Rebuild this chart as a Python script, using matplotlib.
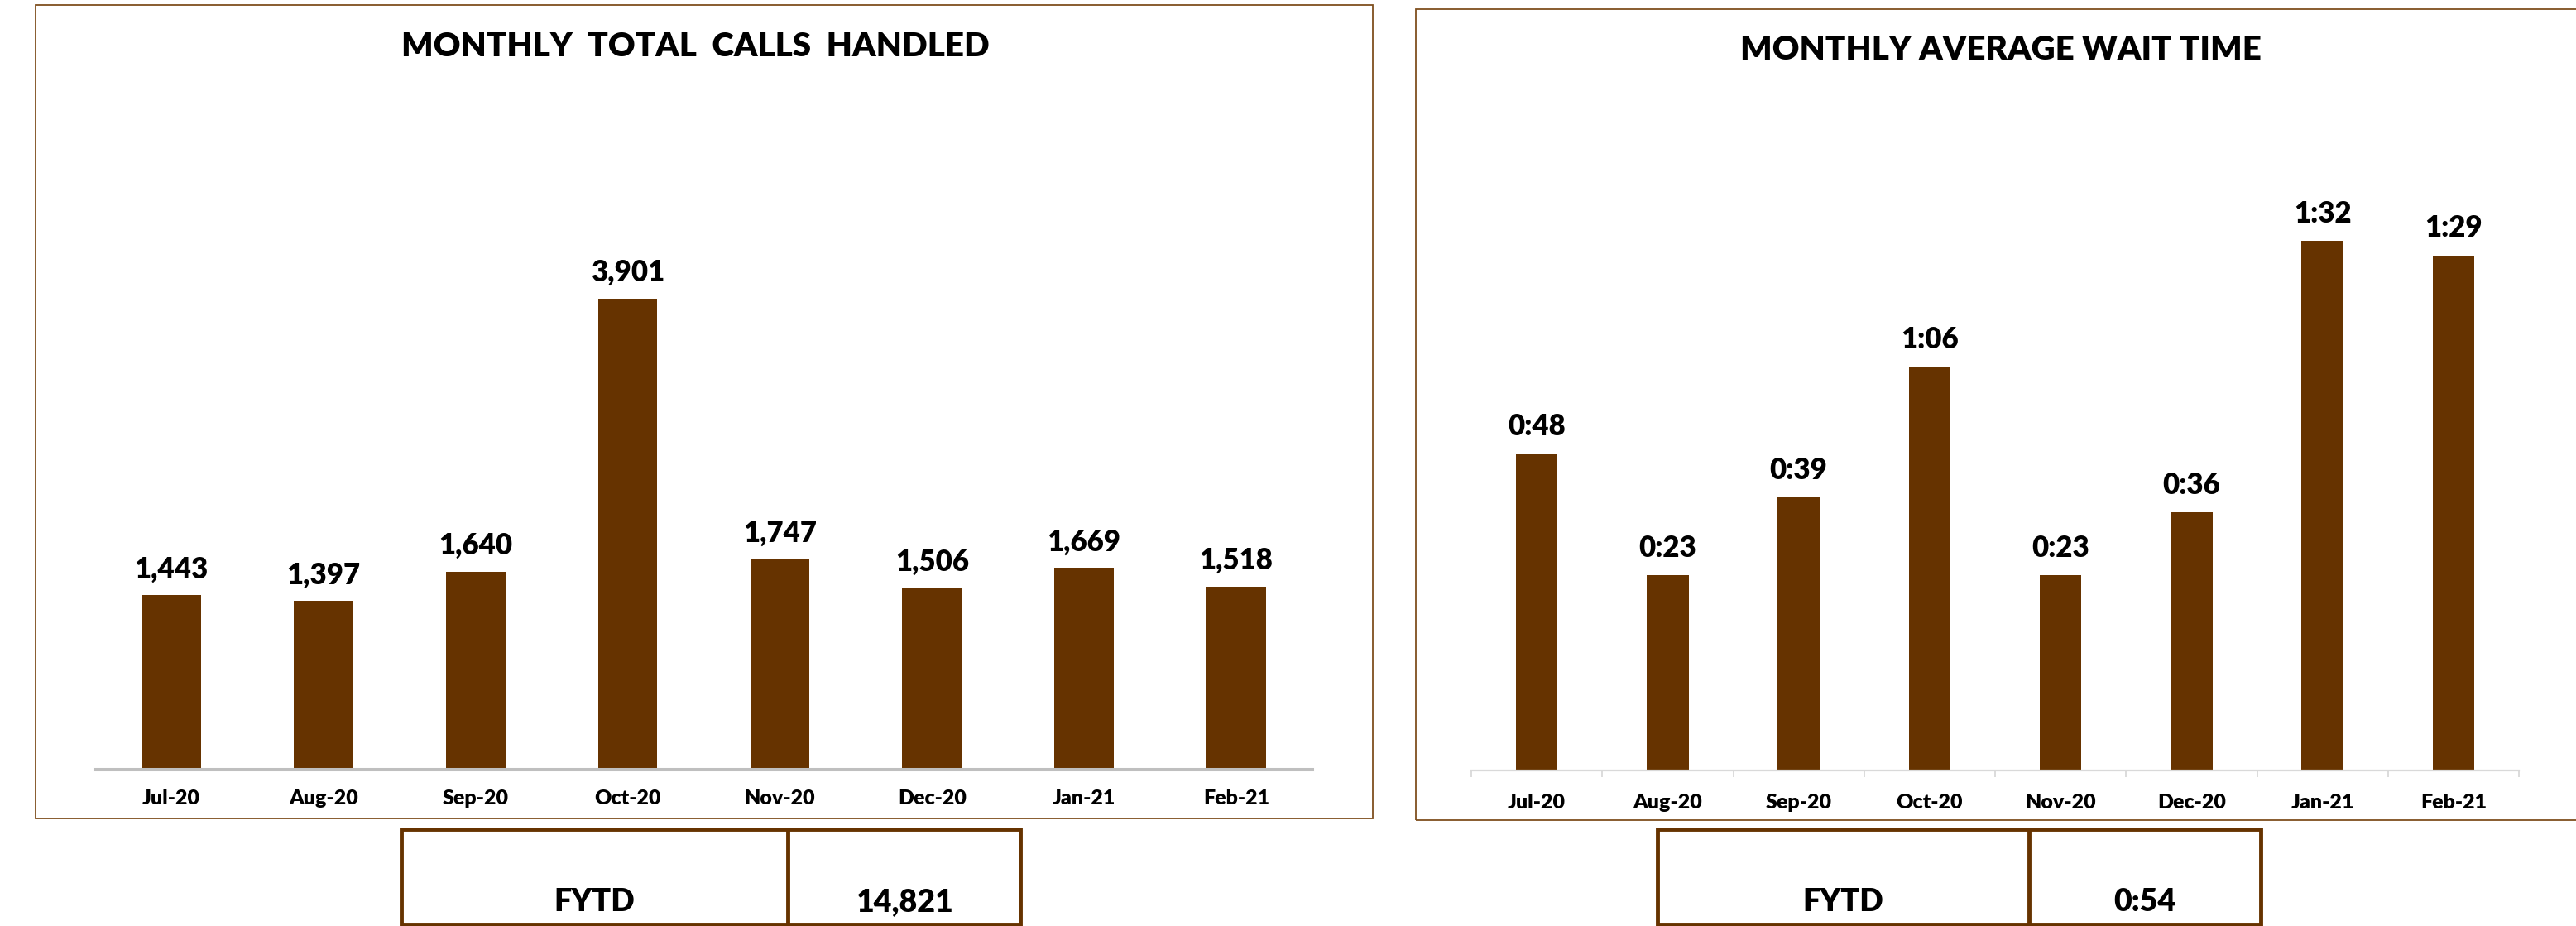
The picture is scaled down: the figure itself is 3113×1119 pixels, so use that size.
import matplotlib
matplotlib.use("Agg")
import matplotlib.pyplot as plt
from matplotlib.patches import Rectangle
from matplotlib.lines import Line2D
import numpy as np

# data
months = ["Jul-20", "Aug-20", "Sep-20", "Oct-20", "Nov-20", "Dec-20", "Jan-21", "Feb-21"]
calls_handled = [1443, 1397, 1640, 3901, 1747, 1506, 1669, 1518]
wait_seconds = [48, 23, 39, 66, 23, 36, 92, 89]   # shown as m:ss
fytd_calls = 14821
fytd_wait_seconds = 54

BAR = "#663300"
FRAME = "#7f4f1f"
W, H = 3113, 1119
WEIGHT = "heavy"

plt.rcParams['font.family'] = ['Lato', 'DejaVu Sans']
plt.rcParams['font.weight'] = WEIGHT


def px_rect(x0, y0, x1, y1):
    ''' pixel box (origin top-left) -> figure fraction [l, b, w, h] '''
    return [x0 / W, 1 - y1 / H, (x1 - x0) / W, (y1 - y0) / H]


def fx(x):
    return x / W


def fy(y):
    return 1 - y / H


def mmss(s):
    return f"{s // 60}:{s % 60:02d}"


fig = plt.figure(figsize=(W / 100, H / 100), dpi=100)

# panel frames
for x0, y0, x1, y1 in [(43, 6, 1659, 989), (1711, 11, 3140, 991)]:
    l, b, w, h = px_rect(x0, y0, x1, y1)
    fig.patches.append(Rectangle((l, b), w, h, transform=fig.transFigure,
                                 fill=False, ec=FRAME, lw=1.3))

x = np.arange(len(months))

# left chart: total calls handled
ax1 = fig.add_axes(px_rect(115, 100, 1586, 930))
ax1.bar(x, calls_handled, width=0.39, color=BAR)
ax1.set_xlim(-0.5, len(months) - 0.5)
ax1.set_ylim(0, 830 / 0.1459)
for s in ["left", "right", "top"]:
    ax1.spines[s].set_visible(False)
ax1.spines["bottom"].set_color("#bfbfbf")
ax1.spines["bottom"].set_linewidth(2.9)
ax1.set_yticks([])
ax1.set_xticks(x)
ax1.set_xticklabels(months, fontsize=18, fontweight=WEIGHT)
ax1.tick_params(axis="x", length=0, pad=17)
for xi, v in zip(x, calls_handled):
    ax1.annotate(f"{v:,}", (xi, v), xytext=(0, 15), textcoords="offset points",
                 ha="center", va="baseline", fontsize=25, fontweight=WEIGHT)

# right chart: average wait time (axis floor sits below zero)
base = -17.3
ax2 = fig.add_axes(px_rect(1778, 100, 3044, 931))
ax2.bar(x, [v - base for v in wait_seconds], bottom=base, width=0.32, color=BAR)
ax2.set_xlim(-0.5, len(months) - 0.5)
ax2.set_ylim(base, base + 831 / 5.855)
for s in ["left", "right", "top"]:
    ax2.spines[s].set_visible(False)
ax2.spines["bottom"].set_color("#d9d9d9")
ax2.spines["bottom"].set_linewidth(1.6)
ax2.set_yticks([])
ax2.set_xticks(x)
ax2.set_xticklabels(months, fontsize=18, fontweight=WEIGHT)
ax2.set_xticks(np.arange(len(months) + 1) - 0.5, minor=True)
ax2.tick_params(axis="x", which="major", length=0, pad=20)
ax2.tick_params(axis="x", which="minor", length=6, width=1.3, color="#d9d9d9")
for xi, v in zip(x, wait_seconds):
    ax2.annotate(mmss(v), (xi, v), xytext=(0, 16), textcoords="offset points",
                 ha="center", va="baseline", fontsize=25, fontweight=WEIGHT)

# titles
fig.text(fx(840), fy(56), "MONTHLY  TOTAL  CALLS  HANDLED", ha="center", va="center",
         fontsize=29, fontweight=WEIGHT)
fig.text(fx(2418), fy(60), "MONTHLY AVERAGE WAIT TIME", ha="center", va="center",
         fontsize=29, fontweight=WEIGHT)

# FYTD boxes
for (x0, xm, x1), val in [((485, 952, 1233), f"{fytd_calls:,}"),
                          ((2003, 2452, 2732), mmss(fytd_wait_seconds))]:
    l, b, w, h = px_rect(x0, 1002, x1, 1117)
    fig.patches.append(Rectangle((l, b), w, h, transform=fig.transFigure,
                                 fill=False, ec=BAR, lw=3.5))
    fig.lines.append(Line2D([fx(xm), fx(xm)], [fy(1002), fy(1117)],
                            transform=fig.transFigure, color=BAR, lw=3.5))
    fig.text(fx((x0 + xm) / 2), fy(1090), "FYTD", ha="center", va="center",
             fontsize=27, fontweight=WEIGHT)
    fig.text(fx((xm + x1) / 2), fy(1090), val, ha="center", va="center",
             fontsize=27, fontweight=WEIGHT)

fig.savefig("out.png", dpi=100)
